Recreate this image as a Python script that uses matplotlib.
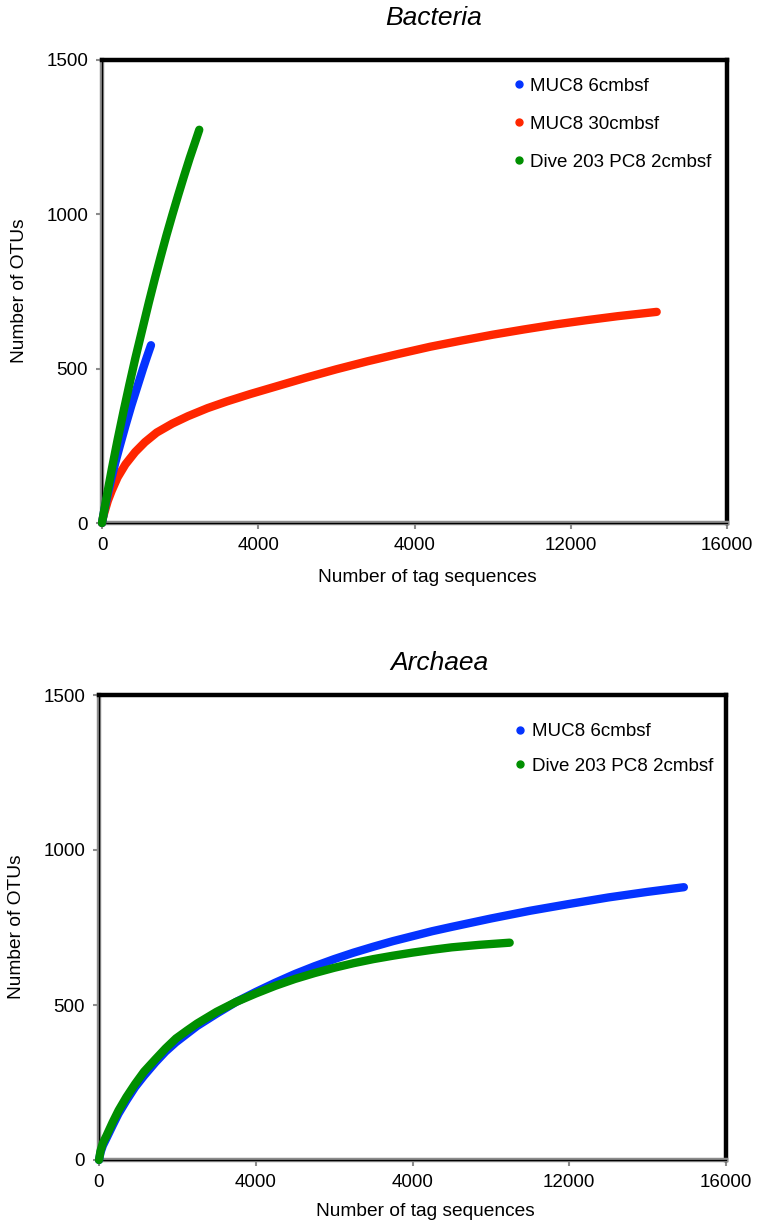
import numpy as np
import matplotlib
matplotlib.use("Agg")
import matplotlib.pyplot as plt
from matplotlib.lines import Line2D

plt.rcParams['font.family'] = ['Liberation Sans', 'DejaVu Sans']

# ---- data ----
tick_vals = [0, 4000, 8000, 12000, 16000]
tick_labels = ['0', '4000', '4000', '12000', '16000']   # label typo kept as in original
y_ticks = [0, 500, 1000, 1500]

# Bacteria
bac_muc8_6_x = [0, 60, 150, 250, 350, 450, 600, 750, 900, 1050, 1150, 1254]
bac_muc8_6_y = [0, 42, 95, 150, 200, 247, 315, 380, 440, 500, 538, 576]

bac_muc8_30_x = [0, 30, 80, 150, 250, 400, 600, 850, 1100, 1400, 1800, 2200, 2700,
                 3200, 3800, 4500, 5200, 6000, 6800, 7600, 8400, 9200, 10000,
                 10800, 11600, 12400, 13200, 14200]
bac_muc8_30_y = [0, 20, 42, 72, 105, 148, 190, 230, 262, 293, 322, 346, 372,
                 394, 418, 444, 470, 498, 524, 548, 571, 591, 610,
                 627, 643, 657, 670, 684]

bac_dive_x = [0, 100, 250, 400, 550, 700, 850, 1041, 1200, 1350, 1500, 1650, 1800,
              1950, 2100, 2250, 2400, 2490]
bac_dive_y = [0, 72, 174, 270, 361, 448, 532, 632, 715, 790, 862, 932, 998,
              1062, 1124, 1184, 1240, 1274]

# Archaea
arc_muc8_6_x = [0, 40, 100, 190, 350, 500, 700, 920, 1150, 1440, 1700, 1965, 2500,
                3000, 3500, 4000, 4500, 5000, 5500, 6000, 6500, 7000, 7500, 8000,
                8500, 9000, 10000, 11000, 12000, 13000, 14000, 14925]
arc_muc8_6_y = [0, 25, 47, 70, 112, 150, 192, 235, 272, 315, 350, 380, 432,
                472, 510, 542, 572, 600, 625, 648, 669, 688, 706, 722,
                738, 752, 779, 804, 826, 847, 865, 880]

arc_dive_x = [0, 40, 100, 190, 350, 500, 700, 920, 1150, 1440, 1700, 1965, 2250,
              2500, 3000, 3500, 4000, 4500, 5000, 5500, 6000, 6500, 7000, 7500,
              8000, 8500, 9000, 9700, 10480]
arc_dive_y = [0, 30, 55, 78, 122, 160, 203, 245, 285, 325, 360, 392, 418,
              440, 478, 510, 537, 562, 584, 603, 620, 635, 648, 659,
              669, 678, 686, 694, 701]

BLUE = '#0433FF'
RED = '#FF2600'
GREEN = '#008F00'

fig = plt.figure(figsize=(7.57, 12.25), dpi=100)
ax1 = fig.add_axes([102 / 757, 1 - 523 / 1225, 625 / 757, 463 / 1225])
ax2 = fig.add_axes([99 / 757, 1 - 1160 / 1225, 627 / 757, 465 / 1225])


def style_axes(ax):
    ax.set_xlim(0, 16000)
    ax.set_ylim(0, 1500)
    ax.set_xticks(tick_vals)
    ax.set_xticklabels(tick_labels)
    ax.set_yticks(y_ticks)
    ax.tick_params(direction='out', length=4, width=1.5, color='#8c8c8c',
                   labelsize=13.5, pad=6)
    for s in ['top', 'right']:
        ax.spines[s].set_color('black')
        ax.spines[s].set_linewidth(3.2)
    for s in ['left', 'bottom']:
        ax.spines[s].set_color('#8c8c8c')
        ax.spines[s].set_linewidth(3.2)
    # thin black core on the left/bottom axis lines
    ax.axvline(0, color='black', lw=0.9, zorder=2.6, clip_on=False)
    ax.axhline(0, color='black', lw=0.9, zorder=2.6, clip_on=False)


def curve(ax, x, y, c):
    ax.plot(x, y, color=c, lw=6, solid_capstyle='round', solid_joinstyle='round',
            clip_on=False, zorder=3)


style_axes(ax1)
curve(ax1, bac_muc8_30_x, bac_muc8_30_y, RED)
curve(ax1, bac_muc8_6_x, bac_muc8_6_y, BLUE)
curve(ax1, bac_dive_x, bac_dive_y, GREEN)

style_axes(ax2)
curve(ax2, arc_muc8_6_x, arc_muc8_6_y, BLUE)
curve(ax2, arc_dive_x, arc_dive_y, GREEN)


def dot(c, label):
    return Line2D([], [], ls='none', marker='o', markersize=5, color=c, label=label)


ax1.legend(handles=[dot(BLUE, 'MUC8 6cmbsf'), dot(RED, 'MUC8 30cmbsf'),
                    dot(GREEN, 'Dive 203 PC8 2cmbsf')],
           loc='upper left', bbox_to_anchor=(0.658, 0.962), frameon=False,
           fontsize=13.5, handlelength=0.6, handletextpad=0.3, labelspacing=1.12,
           borderpad=0, borderaxespad=0)
ax2.legend(handles=[dot(BLUE, 'MUC8 6cmbsf'), dot(GREEN, 'Dive 203 PC8 2cmbsf')],
           loc='upper left', bbox_to_anchor=(0.663, 0.939), frameon=False,
           fontsize=13.5, handlelength=0.6, handletextpad=0.3, labelspacing=0.92,
           borderpad=0, borderaxespad=0)

# titles and axis labels
fig.text(434 / 757, 1 - 18 / 1225, 'Bacteria', style='italic', fontsize=19,
         ha='center', va='center')
fig.text(439 / 757, 1 - 663 / 1225, 'Archaea', style='italic', fontsize=19,
         ha='center', va='center')
fig.text(427 / 757, 1 - 577 / 1225, 'Number of tag sequences', fontsize=13.8,
         ha='center', va='center')
fig.text(425 / 757, 1 - 1211 / 1225, 'Number of tag sequences', fontsize=13.8,
         ha='center', va='center')
fig.text(20 / 757, 1 - 291 / 1225, 'Number of OTUs', fontsize=13.8, rotation=90,
         ha='center', va='center')
fig.text(17 / 757, 1 - 927 / 1225, 'Number of OTUs', fontsize=13.8, rotation=90,
         ha='center', va='center')

fig.savefig('out.png', dpi=100)
